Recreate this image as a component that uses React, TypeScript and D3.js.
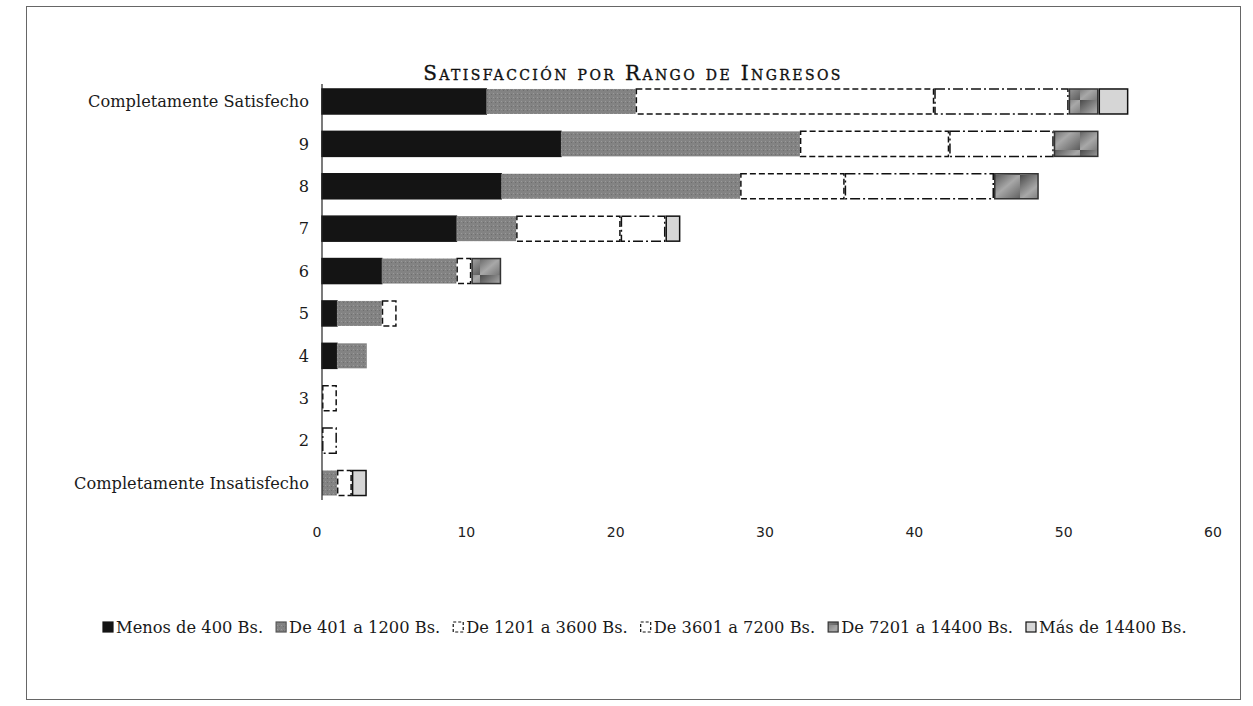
import React, { useEffect, useRef } from "react";
import * as d3 from "d3";

const categories = [
  "Completamente Satisfecho", "9", "8", "7", "6", "5", "4", "3", "2", "Completamente Insatisfecho",
];
const seriesNames = [
  "Menos de 400 Bs.", "De 401 a 1200 Bs.", "De 1201 a 3600 Bs.",
  "De 3601 a 7200 Bs.", "De 7201 a 14400 Bs.", "Más de 14400 Bs.",
];
const menos400 = [11, 16, 12, 9, 4, 1, 1, 0, 0, 0];
const de401 = [10, 16, 16, 4, 5, 3, 2, 0, 0, 1];
const de1201 = [20, 10, 7, 7, 1, 1, 0, 1, 0, 1];
const de3601 = [9, 7, 10, 3, 0, 0, 0, 0, 1, 0];
const de7201 = [2, 3, 3, 0, 2, 0, 0, 0, 0, 0];
const mas14400 = [2, 0, 0, 1, 0, 0, 0, 0, 0, 1];
const xTicks = [0, 10, 20, 30, 40, 50, 60];

const W = 1253, H = 706;
const serif = "'DejaVu Serif', serif";

// look of each series: fill, stroke, dash
const styles = [
  { fill: "#141414", stroke: "#141414", dash: null },
  { fill: "url(#pGray)", stroke: "none", dash: null },
  { fill: "#fff", stroke: "#111", dash: "6,3" },
  { fill: "#fff", stroke: "#111", dash: "10,3,2,3" },
  { fill: "url(#pDark)", stroke: "#333", dash: null },
  { fill: "#d6d6d6", stroke: "#111", dash: null },
];

export default function App() {
  const ref = useRef<SVGSVGElement>(null);

  useEffect(() => {
    const svg = d3.select(ref.current);
    svg.selectAll("*").remove();

    const defs = svg.append("defs");
    const pg = defs.append("pattern").attr("id", "pGray").attr("width", 4).attr("height", 4)
      .attr("patternUnits", "userSpaceOnUse");
    pg.append("rect").attr("width", 4).attr("height", 4).attr("fill", "#838383");
    pg.append("rect").attr("x", 1).attr("y", 1).attr("width", 1).attr("height", 1).attr("fill", "#9a9a9a");
    pg.append("rect").attr("x", 3).attr("y", 2).attr("width", 1).attr("height", 1).attr("fill", "#6e6e6e");
    const gd = defs.append("linearGradient").attr("id", "gDark")
      .attr("x1", 0).attr("y1", 0).attr("x2", 1).attr("y2", 1);
    gd.append("stop").attr("offset", "0%").attr("stop-color", "#4a4a4a");
    gd.append("stop").attr("offset", "50%").attr("stop-color", "#a8a8a8");
    gd.append("stop").attr("offset", "100%").attr("stop-color", "#5c5c5c");
    const pd = defs.append("pattern").attr("id", "pDark").attr("width", 30).attr("height", 25)
      .attr("patternUnits", "userSpaceOnUse");
    pd.append("rect").attr("width", 30).attr("height", 25).attr("fill", "url(#gDark)");

    // frame
    svg.append("rect").attr("x", 26.5).attr("y", 6.5).attr("width", 1214).attr("height", 693)
      .attr("fill", "none").attr("stroke", "#666").attr("stroke-width", 1);

    svg.append("text").attr("x", 633).attr("y", 80).attr("text-anchor", "middle")
      .attr("font-family", serif).attr("font-size", 20).attr("font-weight", 400)
      .attr("letter-spacing", 2.4).attr("stroke", "#111").attr("stroke-width", 0.35)
      .style("font-variant", "small-caps").attr("fill", "#111")
      .text("Satisfacción por Rango de Ingresos");

    const x = d3.scaleLinear().domain([0, 60]).range([322, 1218]);
    const y = d3.scaleBand().domain(categories).range([80.5, 504])
      .paddingInner(0.41).paddingOuter(0.2);

    const rows = categories.map((c, i) => ({
      cat: c,
      v0: menos400[i], v1: de401[i], v2: de1201[i], v3: de3601[i], v4: de7201[i], v5: mas14400[i],
    }));
    const keys = ["v0", "v1", "v2", "v3", "v4", "v5"];
    const stacked = d3.stack<any>().keys(keys)(rows);

    stacked.forEach((layer, k) => {
      const st = styles[k];
      svg.append("g").selectAll("rect")
        .data(layer.filter((d) => d[1] > d[0]))
        .join("rect")
        .attr("x", (d) => x(d[0]) + (st.stroke !== "none" && k > 0 ? 0.75 : 0))
        .attr("y", (d) => y(d.data.cat)!)
        .attr("width", (d) => x(d[1]) - x(d[0]) - (st.stroke !== "none" && k > 0 ? 1.5 : 0))
        .attr("height", y.bandwidth())
        .attr("fill", st.fill)
        .attr("stroke", st.stroke)
        .attr("stroke-width", 1.5)
        .attr("stroke-dasharray", st.dash);
    });

    // category axis line
    svg.append("line").attr("x1", x(0)).attr("x2", x(0)).attr("y1", 84).attr("y2", 500)
      .attr("stroke", "#222").attr("stroke-width", 1.2);

    svg.append("g").selectAll("text").data(categories).join("text")
      .attr("x", 309).attr("y", (d) => y(d)! + y.bandwidth() / 2)
      .attr("dy", "0.35em").attr("text-anchor", "end")
      .attr("font-family", serif).attr("font-size", 16.2).attr("fill", "#1a1a1a")
      .text((d) => d);

    svg.append("g").selectAll("text").data(xTicks).join("text")
      .attr("x", (d) => x(d) - 5).attr("y", 532).attr("dy", "0.35em").attr("text-anchor", "middle")
      .attr("font-family", "'DejaVu Sans', sans-serif").attr("font-size", 14).attr("fill", "#222")
      .text((d) => d);

    // legend, laid out by measured text width
    const lg = svg.append("g");
    let cx = 103;
    seriesNames.forEach((name, k) => {
      const st = styles[k];
      lg.append("rect").attr("x", cx).attr("y", 622).attr("width", 10).attr("height", 10)
        .attr("fill", st.fill).attr("stroke", st.stroke === "none" ? "#555" : st.stroke)
        .attr("stroke-width", 1.2).attr("stroke-dasharray", st.dash ? "3,2" : null);
      const t = lg.append("text").attr("x", cx + 13).attr("y", 627).attr("dy", "0.35em")
        .attr("font-family", serif).attr("font-size", 16.3).attr("fill", "#1a1a1a").text(name);
      const w = (t.node() as SVGTextElement).getComputedTextLength();
      cx += 13 + w + 13;
    });
  }, []);

  return (
    <svg ref={ref} width={W} height={H}
      style={{ position: "absolute", left: 0, top: 0, background: "#fff" }} />
  );
}
